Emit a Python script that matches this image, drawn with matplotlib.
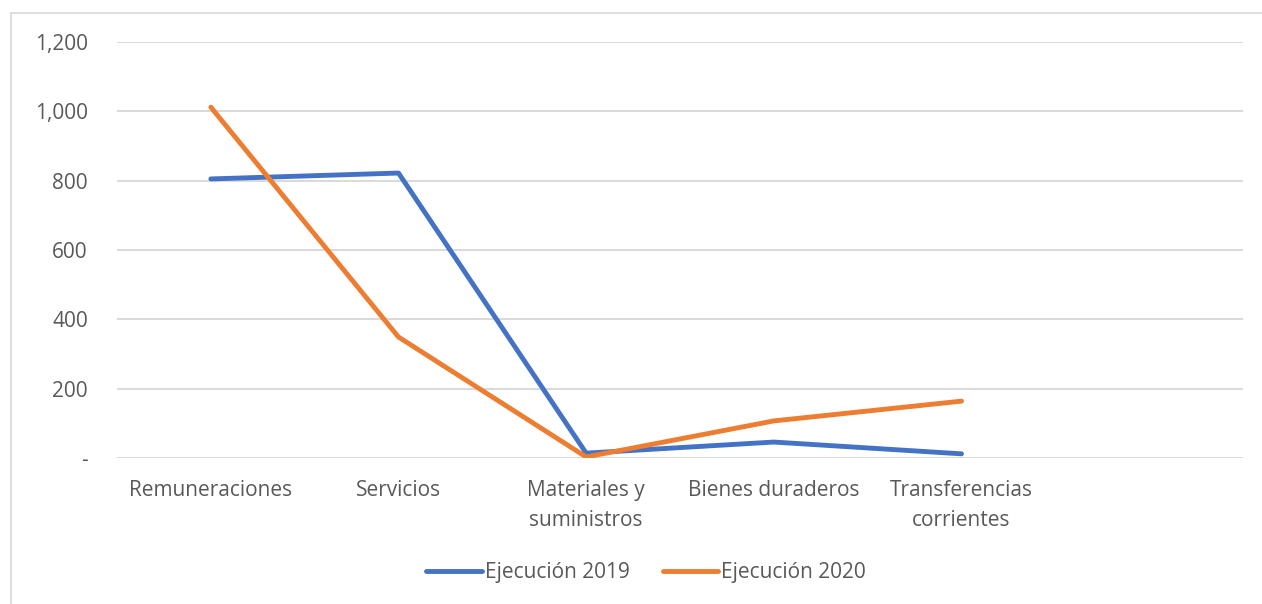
import matplotlib
matplotlib.use("Agg")
import matplotlib.pyplot as plt
from matplotlib.lines import Line2D

# Data
categories = [
    "Remuneraciones",
    "Servicios",
    "Materiales y\nsuministros",
    "Bienes duraderos",
    "Transferencias\ncorrientes",
    "",
]
ejecucion_2019 = [805, 822, 14, 46, 12]
ejecucion_2020 = [1012, 349, 3, 107, 164]
y_ticks = [0, 200, 400, 600, 800, 1000, 1200]

BLUE = "#4472C4"
ORANGE = "#ED7D31"
TEXT = "#595959"
GRID = "#D9D9D9"
FS = 15

plt.rcParams["font.family"] = ["Open Sans", "DejaVu Sans"]

fig = plt.figure(figsize=(12.62, 6.04), dpi=100)

# outer chart border: only top and left edges are inside the crop
bx, by = 11 / 1262, 1 - 13 / 604
fig.add_artist(Line2D([bx, 1.0], [by, by], transform=fig.transFigure, color=GRID, lw=1.2))
fig.add_artist(Line2D([bx, bx], [0.0, by], transform=fig.transFigure, color=GRID, lw=1.2))

ax = fig.add_axes([117 / 1262, 1 - 458 / 604, (1243 - 117) / 1262, (458 - 42) / 604])

x = list(range(len(categories)))
ax.plot(x[:len(ejecucion_2019)], ejecucion_2019, color=BLUE, lw=3.5,
        solid_capstyle="round", solid_joinstyle="round", label="Ejecución 2019", zorder=3)
ax.plot(x[:len(ejecucion_2020)], ejecucion_2020, color=ORANGE, lw=3.5,
        solid_capstyle="round", solid_joinstyle="round", label="Ejecución 2020", zorder=3)

ax.set_xlim(-0.5, len(categories) - 0.5)
ax.set_ylim(0, 1200)
ax.set_yticks(y_ticks)
ax.set_yticklabels(["-" if v == 0 else f"{v:,}" for v in y_ticks])
ax.set_xticks(x)
ax.set_xticklabels(categories, linespacing=1.55)

ax.grid(axis="y", color=GRID, lw=1.4)
ax.set_axisbelow(True)
for s in ax.spines.values():
    s.set_visible(False)
ax.tick_params(axis="both", length=0, colors=TEXT, labelsize=FS)
ax.tick_params(axis="x", pad=16)
ax.tick_params(axis="y", pad=21)

leg = ax.legend(loc="center", bbox_to_anchor=(0.47, -0.275), ncol=2, frameon=False,
                fontsize=FS, handlelength=2.65, handletextpad=0.15, columnspacing=1.6)
for t in leg.get_texts():
    t.set_color(TEXT)

fig.savefig("out.png", dpi=100)
